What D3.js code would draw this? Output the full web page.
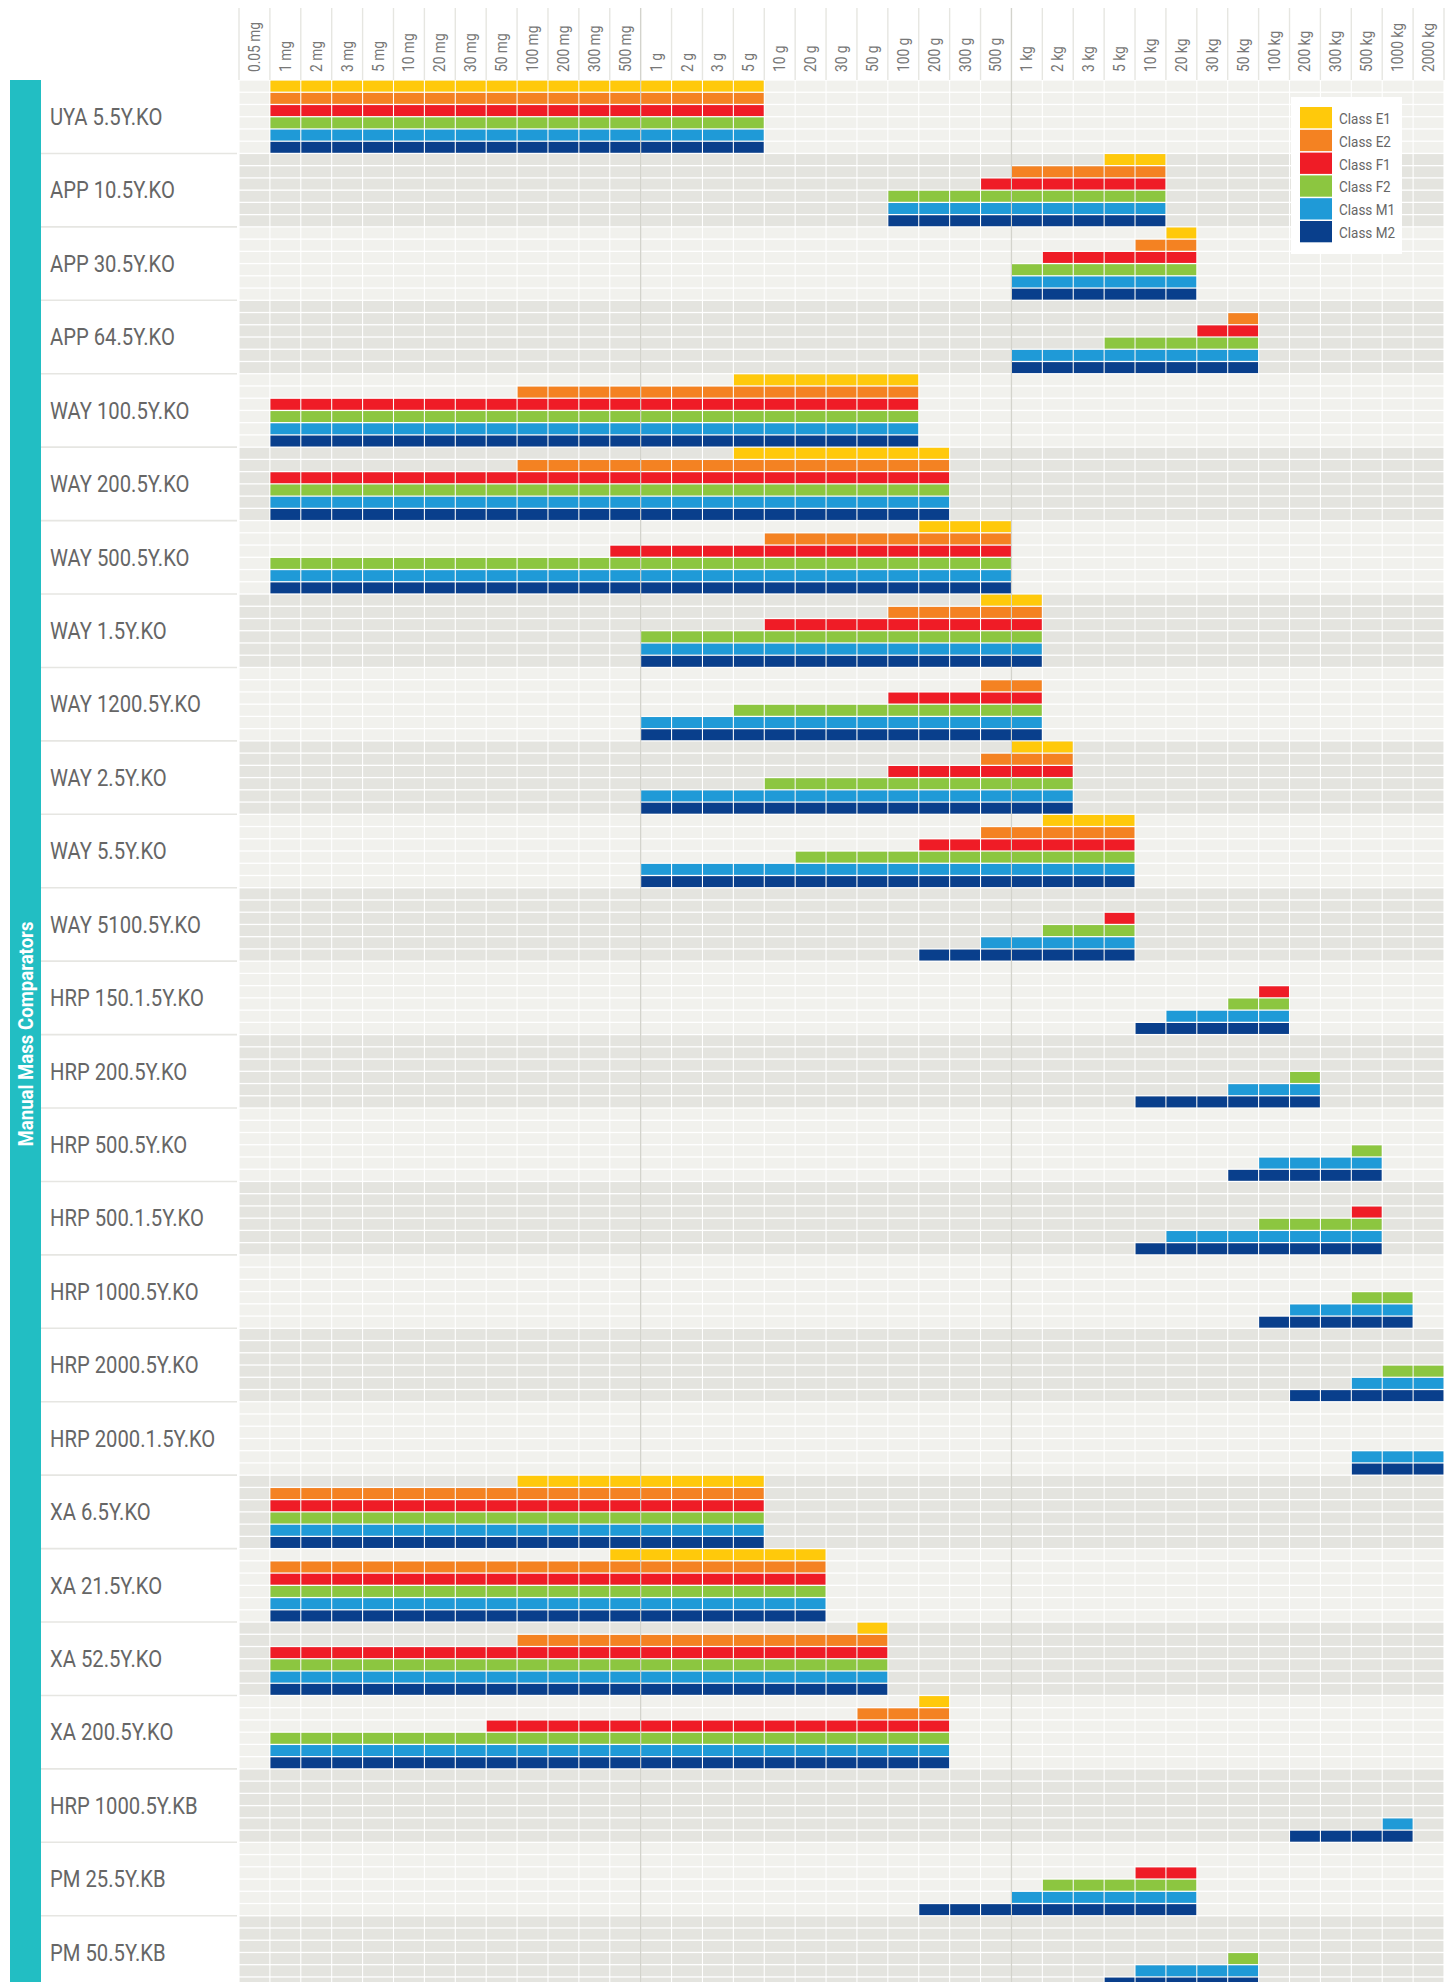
<!DOCTYPE html>
<html>
<head>
<meta charset="utf-8">
<script src="https://cdn.jsdelivr.net/npm/d3@7"></script>
<style>
  html, body { margin: 0; padding: 0; background: #ffffff; }
  svg { display: block; }
</style>
</head>
<body>
<div id="chart"></div>
<script>
// ---------------- DATA ----------------
const massLabels = ["0.05 mg","1 mg","2 mg","3 mg","5 mg","10 mg","20 mg","30 mg","50 mg","100 mg","200 mg","300 mg","500 mg",
  "1 g","2 g","3 g","5 g","10 g","20 g","30 g","50 g","100 g","200 g","300 g","500 g",
  "1 kg","2 kg","3 kg","5 kg","10 kg","20 kg","30 kg","50 kg","100 kg","200 kg","300 kg","500 kg","1000 kg","2000 kg"];

const comparators = ["UYA 5.5Y.KO","APP 10.5Y.KO","APP 30.5Y.KO","APP 64.5Y.KO","WAY 100.5Y.KO","WAY 200.5Y.KO",
  "WAY 500.5Y.KO","WAY 1.5Y.KO","WAY 1200.5Y.KO","WAY 2.5Y.KO","WAY 5.5Y.KO","WAY 5100.5Y.KO",
  "HRP 150.1.5Y.KO","HRP 200.5Y.KO","HRP 500.5Y.KO","HRP 500.1.5Y.KO","HRP 1000.5Y.KO","HRP 2000.5Y.KO",
  "HRP 2000.1.5Y.KO","XA 6.5Y.KO","XA 21.5Y.KO","XA 52.5Y.KO","XA 200.5Y.KO","HRP 1000.5Y.KB","PM 25.5Y.KB","PM 50.5Y.KB"];

const classes = ["Class E1","Class E2","Class F1","Class F2","Class M1","Class M2"];

const groupTitle = "Manual Mass Comparators";

// [from, to] weight range per comparator (null = class not covered)
const rangeE1 = [
  ["1 mg","5 g"], ["5 kg","10 kg"], ["20 kg","20 kg"], null, ["5 g","100 g"], ["5 g","200 g"],
  ["200 g","500 g"], ["500 g","1 kg"], null, ["1 kg","2 kg"], ["2 kg","5 kg"], null,
  null, null, null, null, null, null,
  null, ["100 mg","5 g"], ["500 mg","20 g"], ["50 g","50 g"], ["200 g","200 g"], null, null, null];

const rangeE2 = [
  ["1 mg","5 g"], ["1 kg","10 kg"], ["10 kg","20 kg"], ["50 kg","50 kg"], ["100 mg","100 g"], ["100 mg","200 g"],
  ["10 g","500 g"], ["100 g","1 kg"], ["500 g","1 kg"], ["500 g","2 kg"], ["500 g","5 kg"], null,
  null, null, null, null, null, null,
  null, ["1 mg","5 g"], ["1 mg","20 g"], ["100 mg","50 g"], ["50 g","200 g"], null, null, null];

const rangeF1 = [
  ["1 mg","5 g"], ["500 g","10 kg"], ["2 kg","20 kg"], ["30 kg","50 kg"], ["1 mg","100 g"], ["1 mg","200 g"],
  ["500 mg","500 g"], ["10 g","1 kg"], ["100 g","1 kg"], ["100 g","2 kg"], ["200 g","5 kg"], ["5 kg","5 kg"],
  ["100 kg","100 kg"], null, null, ["500 kg","500 kg"], null, null,
  null, ["1 mg","5 g"], ["1 mg","20 g"], ["1 mg","50 g"], ["50 mg","200 g"], null, ["10 kg","20 kg"], null];

const rangeF2 = [
  ["1 mg","5 g"], ["100 g","10 kg"], ["1 kg","20 kg"], ["5 kg","50 kg"], ["1 mg","100 g"], ["1 mg","200 g"],
  ["1 mg","500 g"], ["1 g","1 kg"], ["5 g","1 kg"], ["10 g","2 kg"], ["20 g","5 kg"], ["2 kg","5 kg"],
  ["50 kg","100 kg"], ["200 kg","200 kg"], ["500 kg","500 kg"], ["100 kg","500 kg"], ["500 kg","1000 kg"], ["1000 kg","2000 kg"],
  null, ["1 mg","5 g"], ["1 mg","20 g"], ["1 mg","50 g"], ["1 mg","200 g"], null, ["2 kg","20 kg"], ["50 kg","50 kg"]];

const rangeM1 = [
  ["1 mg","5 g"], ["100 g","10 kg"], ["1 kg","20 kg"], ["1 kg","50 kg"], ["1 mg","100 g"], ["1 mg","200 g"],
  ["1 mg","500 g"], ["1 g","1 kg"], ["1 g","1 kg"], ["1 g","2 kg"], ["1 g","5 kg"], ["500 g","5 kg"],
  ["20 kg","100 kg"], ["50 kg","200 kg"], ["100 kg","500 kg"], ["20 kg","500 kg"], ["200 kg","1000 kg"], ["500 kg","2000 kg"],
  ["500 kg","2000 kg"], ["1 mg","5 g"], ["1 mg","20 g"], ["1 mg","50 g"], ["1 mg","200 g"], ["1000 kg","1000 kg"], ["1 kg","20 kg"], ["10 kg","50 kg"]];

const rangeM2 = [
  ["1 mg","5 g"], ["100 g","10 kg"], ["1 kg","20 kg"], ["1 kg","50 kg"], ["1 mg","100 g"], ["1 mg","200 g"],
  ["1 mg","500 g"], ["1 g","1 kg"], ["1 g","1 kg"], ["1 g","2 kg"], ["1 g","5 kg"], ["200 g","5 kg"],
  ["10 kg","100 kg"], ["10 kg","200 kg"], ["50 kg","500 kg"], ["10 kg","500 kg"], ["100 kg","1000 kg"], ["200 kg","2000 kg"],
  ["500 kg","2000 kg"], ["1 mg","5 g"], ["1 mg","20 g"], ["1 mg","50 g"], ["1 mg","200 g"], ["200 kg","1000 kg"], ["200 g","20 kg"], ["5 kg","50 kg"]];

const classRanges = [rangeE1, rangeE2, rangeF1, rangeF2, rangeM1, rangeM2];

// ---------------- STYLE ----------------
const classColors = ["#ffc90b", "#f48222", "#ef1c26", "#8cc640", "#1f9ad7", "#093f8c"];
const FONT = "Roboto, 'Noto Sans', sans-serif";
const W = 1453, H = 1982;
const gridX0 = 239, gridX1 = 1444;
const gridY0 = 80, groupH = 73.43;

const svg = d3.select("#chart").append("svg")
  .attr("width", W).attr("height", H)
  .style("font-family", FONT);

const x = d3.scaleBand().domain(massLabels).range([gridX0, gridX1]).padding(0);
const y = d3.scaleBand().domain(comparators).range([gridY0, gridY0 + comparators.length * groupH]).padding(0);
const sub = d3.scaleBand().domain(classes).range([0, groupH]).padding(0);
const color = d3.scaleOrdinal().domain(classes).range(classColors);

const cw = x.bandwidth(), rh = sub.bandwidth();
const gapX = 1.1, gapY = 1.3;

// Header vertical lines
const headerG = svg.append("g");
headerG.selectAll("line.hl")
  .data(massLabels.concat(["__end"]))
  .join("line")
  .attr("x1", (d, i) => gridX0 + i * cw)
  .attr("x2", (d, i) => gridX0 + i * cw)
  .attr("y1", 8).attr("y2", gridY0)
  .attr("stroke", d => (d === "1 g" || d === "1 kg") ? "#d3d3cc" : "#e6e6e1")
  .attr("stroke-width", 1.4);

// Header labels
headerG.selectAll("text")
  .data(massLabels)
  .join("text")
  .attr("transform", d => `translate(${x(d) + cw / 2 + 5.5},72) rotate(-90) scale(0.86,1)`)
  .attr("font-size", 16)
  .attr("fill", "#777")
  .attr("text-anchor", "start")
  .text(d => d);

// Grid background cells
const gridG = svg.append("g");
const bgCells = [];
comparators.forEach((c, gi) => {
  classes.forEach(k => {
    massLabels.forEach(m => bgCells.push({ c, k, m, gi }));
  });
});
gridG.selectAll("rect")
  .data(bgCells)
  .join("rect")
  .attr("x", d => x(d.m) + gapX / 2)
  .attr("y", d => y(d.c) + sub(d.k) + gapY / 2)
  .attr("width", cw - gapX)
  .attr("height", rh - gapY)
  .attr("fill", d => d.gi % 2 === 0 ? "#f1f1ed" : "#e4e4df");

// darker divider lines at 1 g and 1 kg
svg.append("g").selectAll("line")
  .data(["1 g", "1 kg"])
  .join("line")
  .attr("x1", d => x(d)).attr("x2", d => x(d))
  .attr("y1", gridY0).attr("y2", H)
  .attr("stroke", "#d3d3cc").attr("stroke-width", 1.3);

// Colored cells
const filled = [];
comparators.forEach((c, gi) => {
  classes.forEach((k, ki) => {
    const r = classRanges[ki][gi];
    if (!r) return;
    const a = massLabels.indexOf(r[0]), b = massLabels.indexOf(r[1]);
    for (let i = a; i <= b; i++) filled.push({ c, k, m: massLabels[i] });
  });
});
svg.append("g").selectAll("rect")
  .data(filled)
  .join("rect")
  .attr("x", d => x(d.m) + gapX / 2)
  .attr("y", d => y(d.c) + sub(d.k) + gapY / 2)
  .attr("width", cw - gapX)
  .attr("height", rh - gapY)
  .attr("fill", d => color(d.k));

// Left teal bar
svg.append("rect")
  .attr("x", 10).attr("y", gridY0)
  .attr("width", 31).attr("height", H - gridY0)
  .attr("fill", "#22bec3");
svg.append("text")
  .attr("transform", `translate(32.5,${(gridY0 + H) / 2 + 3}) rotate(-90) scale(0.93,1)`)
  .attr("text-anchor", "middle")
  .attr("font-size", 20)
  .attr("font-weight", "bold")
  .attr("fill", "#ffffff")
  .text(groupTitle);

// Row labels and separators
const labG = svg.append("g");
labG.selectAll("line")
  .data(comparators.slice(1))
  .join("line")
  .attr("x1", 41).attr("x2", 237)
  .attr("y1", d => y(d)).attr("y2", d => y(d))
  .attr("stroke", "#e6e6e2").attr("stroke-width", 1.6);
labG.selectAll("text")
  .data(comparators)
  .join("text")
  .attr("transform", d => `translate(50,${y(d) + groupH / 2 + 8.3}) scale(0.88,1)`)
  .attr("font-size", 23)
  .attr("fill", "#666")
  .text(d => d);

// Legend
const leg = svg.append("g");
leg.append("rect")
  .attr("x", 1291).attr("y", 97).attr("width", 111).attr("height", 157)
  .attr("fill", "#ffffff");
const legY = d3.scaleBand().domain(classes).range([107, 107 + 6 * 22.8]).padding(0);
leg.selectAll("rect.sw")
  .data(classes)
  .join("rect")
  .attr("class", "sw")
  .attr("x", 1300).attr("y", d => legY(d))
  .attr("width", 32).attr("height", legY.bandwidth() - 1.5)
  .attr("fill", d => color(d));
leg.selectAll("text")
  .data(classes)
  .join("text")
  .attr("transform", d => `translate(1339,${legY(d) + legY.bandwidth() / 2 + 5.5}) scale(0.87,1)`)
  .attr("font-size", 15.5)
  .attr("fill", "#666")
  .text(d => d);
</script>
</body>
</html>
